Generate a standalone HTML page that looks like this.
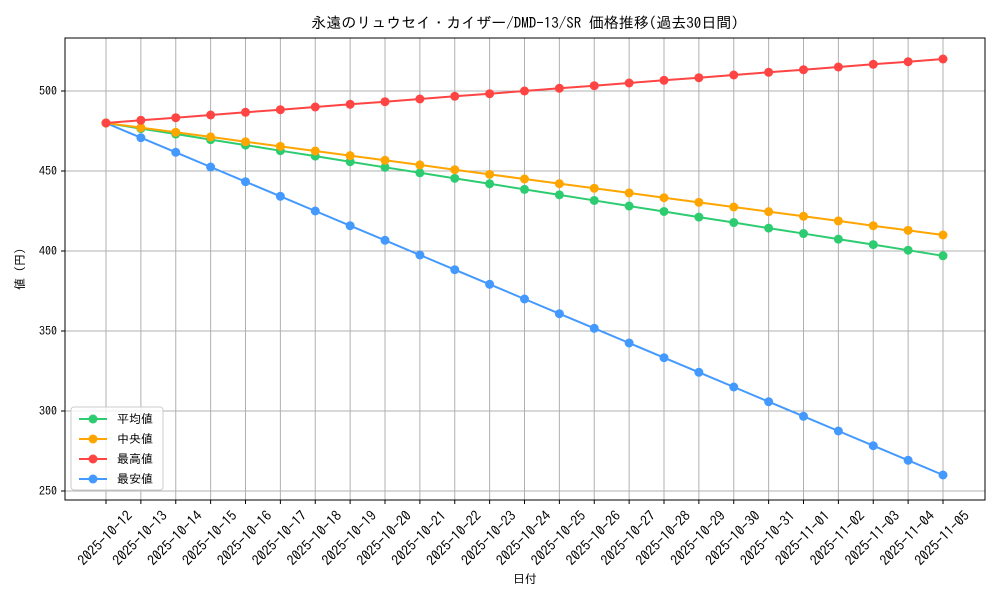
<!DOCTYPE html>
<html><head><meta charset="utf-8"><style>
html,body{margin:0;padding:0;background:#fff;}
svg{display:block;font-family:"IPAGothic","Noto Sans CJK JP",monospace;}
</style></head><body>
<svg id="chart" width="1000" height="600" viewBox="0 0 1000 600" xmlns="http://www.w3.org/2000/svg">
<text x="525" y="28" text-anchor="middle" font-size="15">永遠のリュウセイ・カイザー/DMD-13/SR 価格推移(過去30日間)</text>
<g id="grid"></g><g id="series"></g><g id="axes"></g>
<rect x="65" y="38" width="920" height="462" fill="none" stroke="#000" stroke-width="1"/>
<text x="525" y="583" text-anchor="middle" font-size="12">日付</text>
<text transform="translate(24,269) rotate(-90)" text-anchor="middle" font-size="12">値 (円)</text>
<g id="legend"></g>
</svg>
<script>
const dates=["2025-10-12","2025-10-13","2025-10-14","2025-10-15","2025-10-16","2025-10-17","2025-10-18","2025-10-19","2025-10-20","2025-10-21","2025-10-22","2025-10-23","2025-10-24","2025-10-25","2025-10-26","2025-10-27","2025-10-28","2025-10-29","2025-10-30","2025-10-31","2025-11-01","2025-11-02","2025-11-03","2025-11-04","2025-11-05"];
const avgVals=[480,476.5,473.1,469.6,466.2,462.7,459.3,455.8,452.3,448.9,445.4,442,438.5,435.1,431.6,428.1,424.7,421.2,417.8,414.3,410.9,407.4,404,400.5,397];
const medVals=[480,477.1,474.2,471.3,468.3,465.4,462.5,459.6,456.7,453.8,450.8,447.9,445,442.1,439.2,436.3,433.3,430.4,427.5,424.6,421.7,418.8,415.8,412.9,410];
const maxVals=[480,481.7,483.3,485,486.7,488.3,490,491.7,493.3,495,496.7,498.3,500,501.7,503.3,505,506.7,508.3,510,511.7,513.3,515,516.7,518.3,520];
const minVals=[480,470.8,461.7,452.5,443.3,434.2,425,415.8,406.7,397.5,388.3,379.2,370,360.8,351.7,342.5,333.3,324.2,315,305.8,296.7,287.5,278.3,269.2,260];
const yTicks=[250,300,350,400,450,500];
const seriesNames=["平均値","中央値","最高値","最安値"];
const NS="http://www.w3.org/2000/svg";
function xs(i){return 106+i*(943-106)/(dates.length-1);}
function ys(v){return 91+(500-v)*1.6;}
function mk(tag,attrs,parent){const e=document.createElementNS(NS,tag);for(const k in attrs)e.setAttribute(k,attrs[k]);parent.appendChild(e);return e;}
const grid=document.getElementById('grid'),axes=document.getElementById('axes'),ser=document.getElementById('series'),leg=document.getElementById('legend');
dates.forEach((d,i)=>{const x=xs(i);
 const g=mk('line',{x1:x,x2:x,y1:38,y2:500,stroke:'#b0b0b0','stroke-width':1},grid);
 
 
 mk('line',{x1:x,x2:x,y1:500,y2:504,stroke:'#000'},axes);
 const t=mk('text',{transform:`translate(${x-1},${538}) rotate(-45)`,'text-anchor':'middle',dy:'0.35em','font-size':14},axes);
 
 
 t.textContent=d;});
yTicks.forEach(v=>{const y=ys(v);
 const g=mk('line',{x1:65,x2:985,y1:y,y2:y,stroke:'#b0b0b0','stroke-width':1},grid);
 
 
 mk('line',{x1:61,x2:65,y1:y,y2:y,stroke:'#000'},axes);
 const t=mk('text',{x:57,y:y+4,'text-anchor':'end','font-size':12},axes);
 
 
 t.textContent=v;});
const all=[avgVals,medVals,maxVals,minVals];
const colors=["#2ecc71","#ffa500","#ff4444","#4499ff"];
const order=[3,0,1,2];
order.forEach(si=>{const vals=all[si];const g=mk('g',{},ser);
 
 
 mk('polyline',{points:vals.map((v,i)=>xs(i)+','+ys(v)).join(' '),fill:'none',stroke:colors[si],'stroke-width':2},g);
 vals.forEach((v,i)=>{const c=mk('circle',{cx:xs(i),cy:ys(v),r:4.5,fill:colors[si]},g);
  
  });});
mk('rect',{x:71,y:407,width:92,height:83,rx:3,fill:'#fff','fill-opacity':0.8,stroke:'#ccc'},leg);
seriesNames.forEach((n,i)=>{const y=419+i*20;const g=mk('g',{},leg);
 
 
 mk('line',{x1:79,x2:107,y1:y,y2:y,stroke:colors[i],'stroke-width':2},g);
 mk('circle',{cx:93,cy:y,r:4.5,fill:colors[i]},g);
 const t=mk('text',{x:117,y:y+4,'font-size':12},g);t.textContent=n;});
</script>
</body></html>
